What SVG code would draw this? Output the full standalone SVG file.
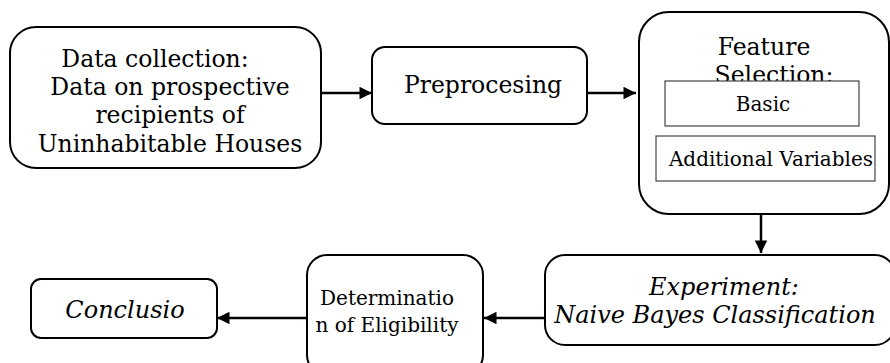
<svg xmlns="http://www.w3.org/2000/svg" width="890" height="363" viewBox="0 0 890 363">
<style>
.box{fill:#fff;stroke:#000;stroke-width:2}
.inner{fill:#fff;stroke:#444;stroke-width:1.2}
.t{font-family:"DejaVu Serif","Liberation Serif",serif;fill:#000;text-anchor:middle}
.i{font-style:italic}
.c{stroke:#000;stroke-width:2.5;fill:none}
</style>
<defs>
<marker id="ah" viewBox="0 0 10 10" refX="10" refY="5" markerWidth="6" markerHeight="5" markerUnits="strokeWidth" orient="auto">
<path d="M0,0 L10,5 L0,10 z" fill="#000"/>
</marker>
</defs>
<rect width="890" height="363" fill="#fff"/>
<g id="connectors">
<line class="c" x1="321" y1="93" x2="372" y2="93" marker-end="url(#ah)"/>
<line class="c" x1="587" y1="93" x2="636" y2="93" marker-end="url(#ah)"/>
<line class="c" x1="761" y1="214" x2="761" y2="253" marker-end="url(#ah)"/>
<line class="c" x1="545" y1="318" x2="484" y2="318" marker-end="url(#ah)"/>
<line class="c" x1="307" y1="318" x2="217" y2="318" marker-end="url(#ah)"/>
</g>
<g id="data-collection">
<rect class="box" x="10" y="27" width="311" height="141" rx="26"/>
<text class="t" font-size="23.5"><tspan x="155" y="67">Data collection:</tspan><tspan x="170" y="95">Data on prospective</tspan><tspan x="170" y="123">recipients of</tspan><tspan x="170" y="152">Uninhabitable Houses</tspan></text>
</g>
<g id="preprocessing">
<rect class="box" x="372" y="47" width="215" height="77" rx="13"/>
<text class="t" x="483" y="93" font-size="23.5">Preprocesing</text>
</g>
<g id="feature-selection">
<rect class="box" x="639" y="12" width="250" height="202" rx="30"/>
<text class="t" font-size="23.5"><tspan x="764" y="55">Feature</tspan><tspan x="774" y="83">Selection:</tspan></text>
<g id="basic">
<rect class="inner" x="665" y="81" width="194" height="45"/>
<text class="t" x="763" y="111" font-size="20">Basic</text>
</g>
<g id="additional-variables">
<rect class="inner" x="656" y="136" width="219" height="45"/>
<text class="t" x="771" y="166" font-size="20">Additional Variables</text>
</g>
</g>
<g id="experiment">
<rect class="box" x="545" y="255" width="350" height="90" rx="20"/>
<text class="t i" font-size="24"><tspan x="724" y="295">Experiment:</tspan><tspan x="715" y="323">Naive Bayes Classification</tspan></text>
</g>
<g id="determination">
<rect class="box" x="307" y="255" width="176" height="120" rx="20"/>
<text class="t" font-size="20"><tspan x="387" y="305">Determinatio</tspan><tspan x="387" y="332">n of Eligibility</tspan></text>
</g>
<g id="conclusion">
<rect class="box" x="31" y="279" width="186" height="59" rx="10"/>
<text class="t i" x="125" y="318" font-size="24">Conclusio</text>
</g>
</svg>
